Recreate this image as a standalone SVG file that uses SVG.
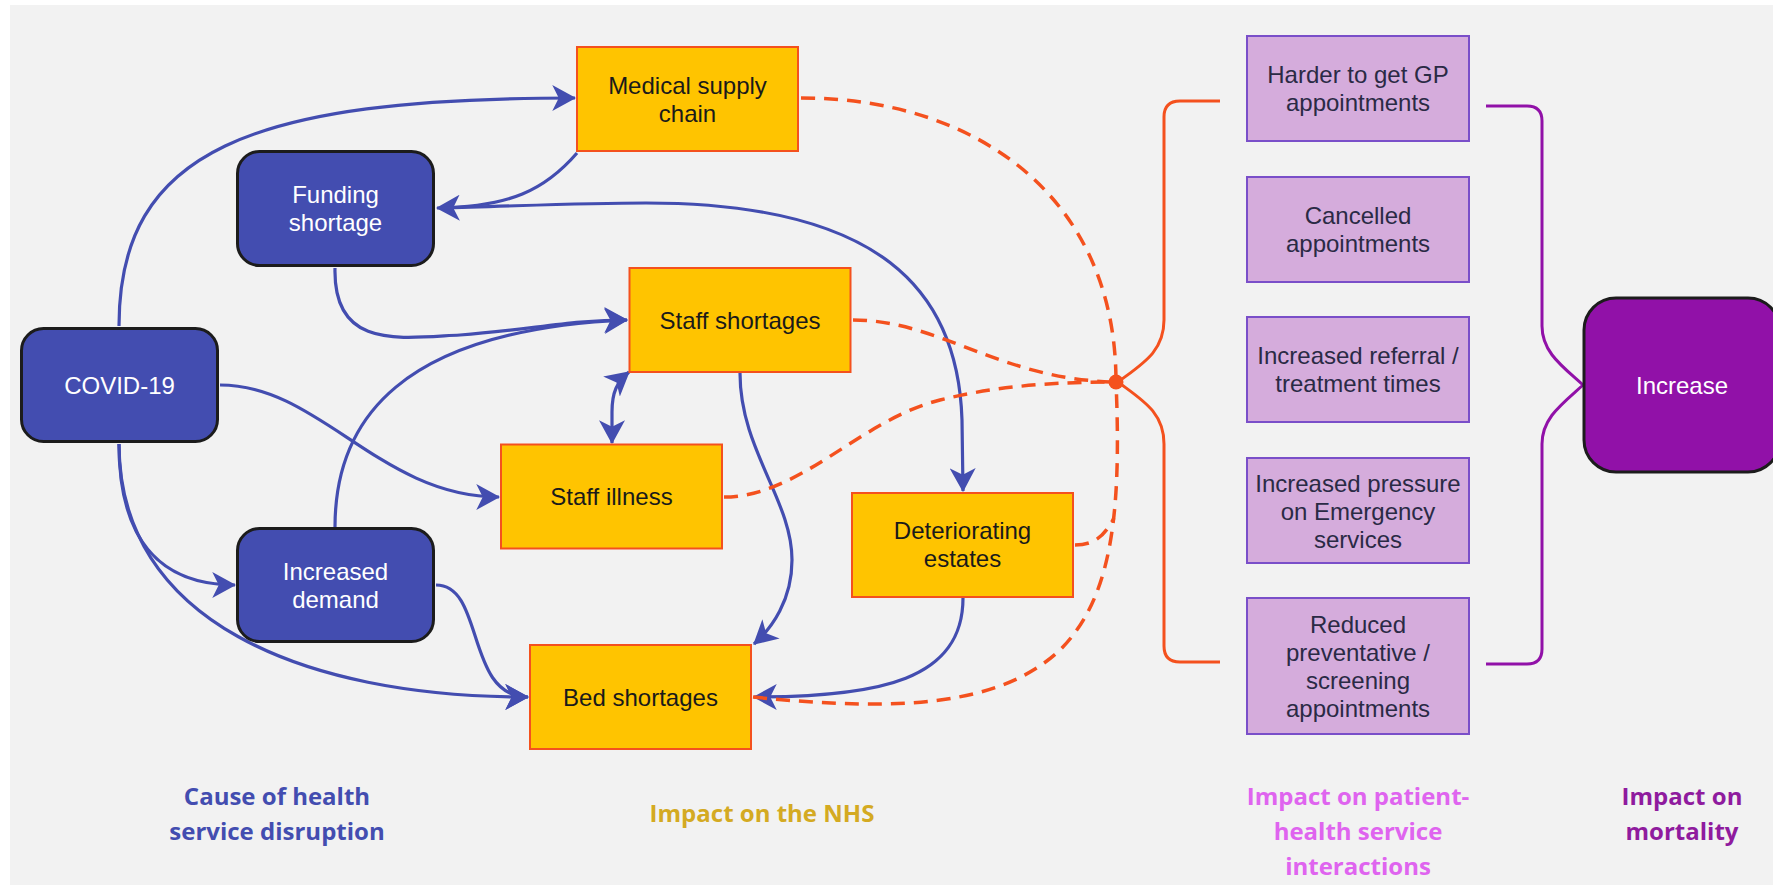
<svg xmlns="http://www.w3.org/2000/svg" width="1773" height="885" viewBox="0 0 1773 885">
<style>
.bg{fill:#f2f2f2}
.cause rect{fill:#434db0;stroke:#1c1c1c;stroke-width:3}
.cause text{fill:#ffffff}
.nhs rect{fill:#ffc400;stroke:#f4511e;stroke-width:2}
.nhs text{fill:#1a1a1a}
.pat rect{fill:#d5acdc;stroke:#7a4fc9;stroke-width:2}
.pat text{fill:#2a2a45}
.mort rect{fill:#9111a8;stroke:#1c1c1c;stroke-width:3}
.mort text{fill:#ffffff}
.node text{font-family:"Liberation Sans",Arial,sans-serif;font-size:24px;text-anchor:middle}
.lbl{font-family:"Open Sans","Liberation Sans",sans-serif;font-weight:bold;font-size:24px;text-anchor:middle}
.blue{fill:none;stroke:#434db0;stroke-width:3.2}
.dash{fill:none;stroke:#f4511e;stroke-width:3.5;stroke-dasharray:14 9}
.brace-o{fill:none;stroke:#f4511e;stroke-width:3}
.brace-p{fill:none;stroke:#9111a8;stroke-width:3}
</style>
<defs>
<marker id="ah" markerUnits="userSpaceOnUse" viewBox="0 0 22 24" refX="21" refY="12" markerWidth="24" markerHeight="26" orient="auto-start-reverse">
<path d="M0,0 L22,12 L0,24 L6,12 Z" fill="#434db0"/>
</marker>
</defs>
<rect x="0" y="0" width="1773" height="885" fill="#ffffff"/>
<rect class="bg" x="10" y="5" width="1763" height="880"/>

<g id="connectors">
<path class="blue" d="M119,326 C119,150 250,98 575,98" marker-end="url(#ah)"/>
<path class="blue" d="M577,153 C545,190 510,207 437,208" marker-end="url(#ah)"/>
<path class="blue" d="M440,208 C520,206 580,203 646,203 C880,203 958,290 962,420 L963,491" marker-end="url(#ah)"/>
<path class="blue" d="M335,268 C333,350 400,338 460,335 C530,330 570,320 627,320" marker-end="url(#ah)"/>
<path class="blue" d="M335,527 C335,420 400,330 627,320" marker-end="url(#ah)"/>
<path class="blue" d="M220,385 C320,385 380,497 499,497" marker-end="url(#ah)"/>
<path class="blue" d="M119,444 C119,540 160,585 235,585" marker-end="url(#ah)"/>
<path class="blue" d="M119,444 C119,620 300,697 528,697" marker-end="url(#ah)"/>
<path class="blue" d="M436,585 C485,585 465,697 528,697" marker-end="url(#ah)"/>
<path class="blue" d="M612,443 L612,412 C612,392 617,382 629,372" marker-start="url(#ah)" marker-end="url(#ah)"/>
<path class="blue" d="M740,373 C740,450 792,500 792,560 C792,600 772,628 754,644" marker-end="url(#ah)"/>
<path class="blue" d="M963,598 C963,680 880,697 754,697" marker-end="url(#ah)"/>

<path class="dash" d="M801,98 C980,98 1116,200 1116,382"/>
<path class="dash" d="M853,320 C940,320 1000,380 1116,382"/>
<path class="dash" d="M724,497 C800,497 860,420 940,400 C1000,385 1060,382 1116,382"/>
<path class="dash" d="M753,697 C900,712 1000,706 1060,650 C1110,600 1122,520 1116,382"/>
<path class="dash" d="M1075,545 C1095,545 1105,535 1114,518"/>
<circle cx="1116" cy="382" r="7.5" fill="#f4511e"/>

<path class="brace-o" d="M1220,101 L1180,101 Q1164,101 1164,117 L1164,320 C1164,352 1142,364 1118,382 C1142,400 1164,412 1164,444 L1164,646 Q1164,662 1180,662 L1220,662"/>
<path class="brace-p" d="M1486,106 L1527,106 Q1542,106 1542,121 L1542,326 C1542,352 1562,366 1583,385 C1562,404 1542,418 1542,444 L1542,649 Q1542,664 1527,664 L1486,664"/>
</g>

<g id="n-covid" class="node cause"><rect x="21.5" y="328.5" width="196" height="113" rx="22"/><text x="119.5" y="393.5">COVID-19</text></g>
<g id="n-funding" class="node cause"><rect x="237.5" y="151.5" width="196" height="114" rx="22"/><text x="335.5" y="203">Funding</text><text x="335.5" y="231">shortage</text></g>
<g id="n-demand" class="node cause"><rect x="237.5" y="528.5" width="196" height="113" rx="22"/><text x="335.5" y="579.5">Increased</text><text x="335.5" y="607.5">demand</text></g>

<g id="n-medical" class="node nhs"><rect x="577" y="47" width="221" height="104"/><text x="687.5" y="93.5">Medical supply</text><text x="687.5" y="122">chain</text></g>
<g id="n-staffshort" class="node nhs"><rect x="629.5" y="268" width="221" height="104"/><text x="740" y="328.5">Staff shortages</text></g>
<g id="n-illness" class="node nhs"><rect x="501" y="444.5" width="221" height="104"/><text x="611.5" y="505">Staff illness</text></g>
<g id="n-estates" class="node nhs"><rect x="852" y="493" width="221" height="104"/><text x="962.5" y="539">Deteriorating</text><text x="962.5" y="567">estates</text></g>
<g id="n-beds" class="node nhs"><rect x="530" y="645" width="221" height="104"/><text x="640.5" y="705.5">Bed shortages</text></g>

<g id="n-gp" class="node pat"><rect x="1247" y="36" width="222" height="105"/><text x="1358" y="83">Harder to get GP</text><text x="1358" y="111">appointments</text></g>
<g id="n-cancelled" class="node pat"><rect x="1247" y="177" width="222" height="105"/><text x="1358" y="223.5">Cancelled</text><text x="1358" y="251.5">appointments</text></g>
<g id="n-referral" class="node pat"><rect x="1247" y="317" width="222" height="105"/><text x="1358" y="364">Increased referral /</text><text x="1358" y="392">treatment times</text></g>
<g id="n-emergency" class="node pat"><rect x="1247" y="458" width="222" height="105"/><text x="1358" y="491.5">Increased pressure</text><text x="1358" y="519.5">on Emergency</text><text x="1358" y="547.5">services</text></g>
<g id="n-preventative" class="node pat"><rect x="1247" y="598" width="222" height="136"/><text x="1358" y="632.5">Reduced</text><text x="1358" y="660.5">preventative /</text><text x="1358" y="688.5">screening</text><text x="1358" y="716.5">appointments</text></g>

<g id="n-increase" class="node mort"><rect x="1584" y="298" width="196" height="174" rx="32"/><text x="1682" y="393.5">Increase</text></g>

<g id="labels">
<text class="lbl" fill="#434db0" x="277" y="805">Cause of health</text>
<text class="lbl" fill="#434db0" x="277" y="840">service disruption</text>
<text class="lbl" fill="#d4aa22" x="762" y="822">Impact on the NHS</text>
<text class="lbl" fill="#df64ef" x="1358" y="805">Impact on patient-</text>
<text class="lbl" fill="#df64ef" x="1358" y="840">health service</text>
<text class="lbl" fill="#df64ef" x="1358" y="875">interactions</text>
<text class="lbl" fill="#8f1b9e" x="1682" y="805">Impact on</text>
<text class="lbl" fill="#8f1b9e" x="1682" y="840">mortality</text>
</g>
</svg>
